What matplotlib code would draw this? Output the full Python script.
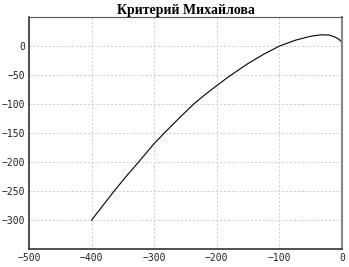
import matplotlib

matplotlib.use("Agg")
import matplotlib.pyplot as plt

# годограф Михайлова (точки)
re_vals = [-400, -382, -364, -345, -325, -300, -284, -260, -237, -218, -200, -180, -165, -150, -125, -100, -75, -50, -33, -20, -10, -4, 0]
im_vals = [-300, -275, -250, -225, -200, -168, -150, -124, -100, -83, -68, -52, -41, -30, -14, 0, 10, 17, 19.5, 19, 15, 11, 6]

x_ticks = [-500, -400, -300, -200, -100, 0]
y_ticks = [-300, -250, -200, -150, -100, -50, 0]

fig = plt.figure(figsize=(3.49, 2.67), dpi=100)
ax = fig.add_axes([0.083, 0.067, 0.897, 0.869])
ax.plot(re_vals, im_vals, color="black", linewidth=0.8)

ax.set_xlim(-500, 0)
ax.set_ylim(-350, 50)
ax.set_xticks(x_ticks)
ax.set_yticks(y_ticks)
ax.grid(True, color="#cccccc", linestyle=(0, (2, 2)), linewidth=0.7)
ax.tick_params(length=0, pad=3, labelsize=7, labelcolor="#222222")
for lbl in ax.get_xticklabels() + ax.get_yticklabels():
    lbl.set_family("DejaVu Sans Mono")

for side in ("left", "bottom"):
    ax.spines[side].set_color("#333333")
    ax.spines[side].set_linewidth(1.2)
ax.spines["top"].set_color("#555555")
ax.spines["right"].set_color("#888888")
ax.spines["right"].set_linewidth(1.5)

ax.set_title("Критерий Михайлова", family="Liberation Serif", fontweight="bold", fontsize=10, pad=2)

fig.savefig("out.png", dpi=100)
